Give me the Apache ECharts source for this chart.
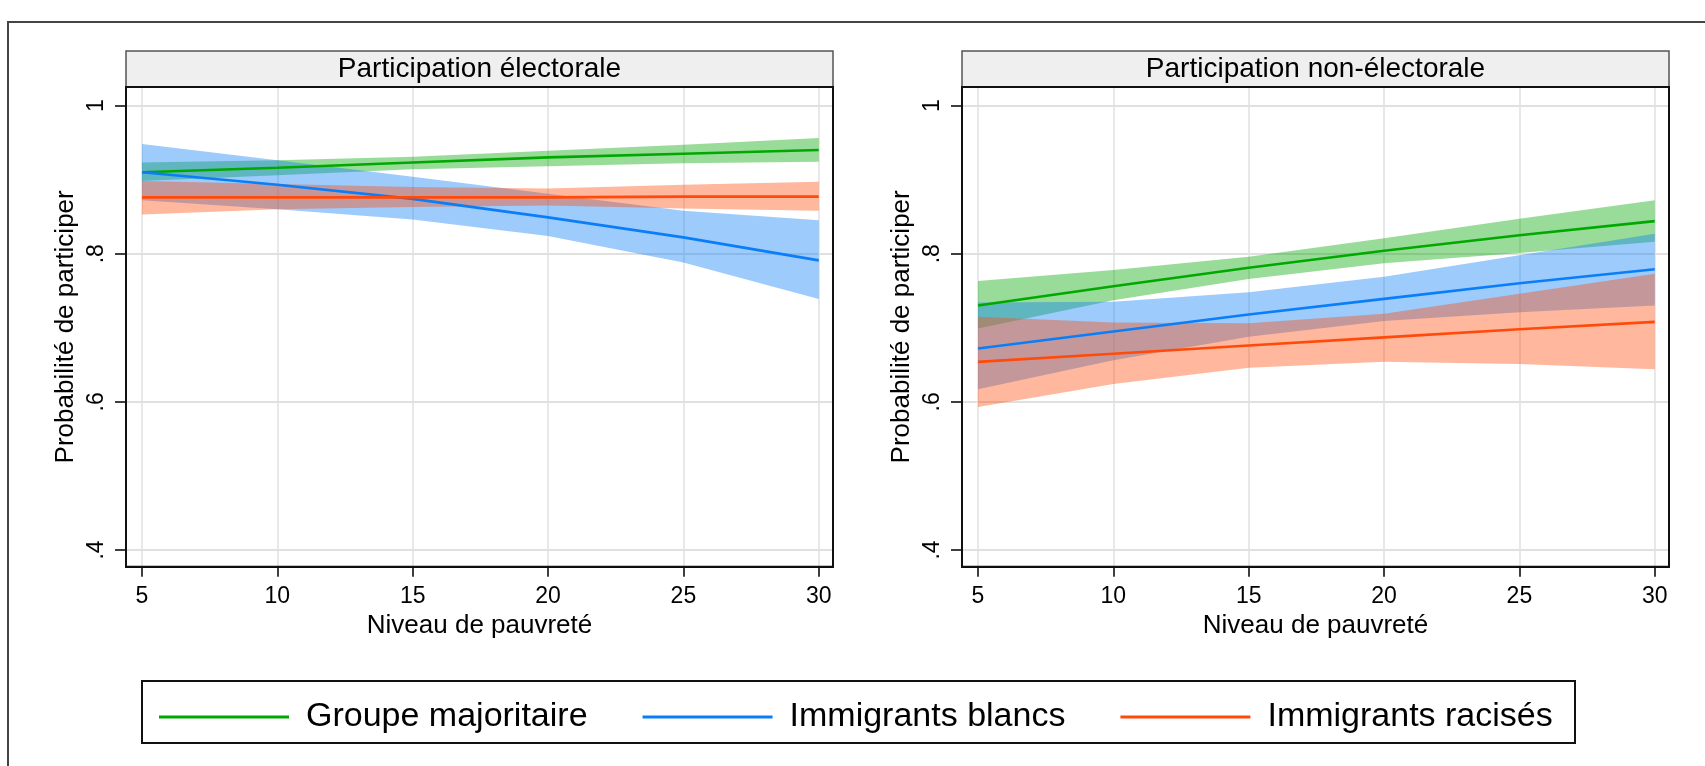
<!DOCTYPE html>
<html><head><meta charset="utf-8">
<script src="https://cdn.jsdelivr.net/npm/echarts@6/dist/echarts.min.js"></script>
<style>html,body{margin:0;padding:0;background:#fff}#c{width:1705px;height:766px}</style>
</head><body><div id="c"></div>
<script>
// ---- data ----
const xValues = [5, 10, 15, 20, 25, 30];
const xTickValues = [5, 10, 15, 20, 25, 30];
const yTickValues = [0.4, 0.6, 0.8, 1];
const yTickLabels = ['.4', '.6', '.8', '1'];
const panelTitles = ['Participation électorale', 'Participation non-électorale'];
const groupNames = ['Groupe majoritaire', 'Immigrants blancs', 'Immigrants racisés'];
const xAxisTitle = 'Niveau de pauvreté';
const yAxisTitle = 'Probabilité de participer';

// Panel 1: Participation électorale
const elecMajLine = [0.910, 0.916, 0.923, 0.930, 0.935, 0.940];
const elecMajLow  = [0.898, 0.906, 0.914, 0.918, 0.922, 0.924];
const elecMajHigh = [0.923, 0.926, 0.931, 0.939, 0.947, 0.956];
const elecBlaLine = [0.910, 0.893, 0.874, 0.849, 0.822, 0.791];
const elecBlaLow  = [0.872, 0.860, 0.846, 0.824, 0.788, 0.739];
const elecBlaHigh = [0.948, 0.926, 0.904, 0.881, 0.858, 0.845];
const elecRacLine = [0.876, 0.876, 0.876, 0.876, 0.877, 0.877];
const elecRacLow  = [0.853, 0.860, 0.863, 0.865, 0.861, 0.858];
const elecRacHigh = [0.898, 0.894, 0.890, 0.888, 0.893, 0.897];

// Panel 2: Participation non-électorale
const nonMajLine = [0.730, 0.756, 0.781, 0.804, 0.825, 0.844];
const nonMajLow  = [0.699, 0.737, 0.766, 0.787, 0.801, 0.816];
const nonMajHigh = [0.763, 0.778, 0.796, 0.821, 0.847, 0.872];
const nonBlaLine = [0.672, 0.695, 0.718, 0.739, 0.760, 0.779];
const nonBlaLow  = [0.617, 0.656, 0.688, 0.709, 0.721, 0.730];
const nonBlaHigh = [0.734, 0.735, 0.748, 0.769, 0.798, 0.827];
const nonRacLine = [0.654, 0.665, 0.676, 0.687, 0.698, 0.708];
const nonRacLow  = [0.593, 0.624, 0.646, 0.654, 0.651, 0.644];
const nonRacHigh = [0.715, 0.707, 0.706, 0.719, 0.746, 0.773];

// ---- styling ----
const FONT = '"Liberation Sans", Arial, Helvetica, sans-serif';
const colors = ['#00a800', '#0a7ef8', '#ff4a0a'];
const panels = [
  { left: 126, groups: [[elecMajLine, elecMajLow, elecMajHigh], [elecBlaLine, elecBlaLow, elecBlaHigh], [elecRacLine, elecRacLow, elecRacHigh]] },
  { left: 962, groups: [[nonMajLine, nonMajLow, nonMajHigh], [nonBlaLine, nonBlaLow, nonBlaHigh], [nonRacLine, nonRacLow, nonRacHigh]] }
];
const GW = 707, GT = 87, GH = 479.7;

const grids = [], xAxes = [], yAxes = [], series = [], graphics = [];

graphics.push({ type: 'rect', shape: { x: 8, y: 22, width: 1800, height: 900 }, style: { fill: 'none', stroke: '#444', lineWidth: 2 }, z: 0 });

function bandSeries(gi, lo, hi, color) {
  const data = xValues.map((x, i) => [x, lo[i], hi[i]]);
  return {
    type: 'custom', xAxisIndex: gi, yAxisIndex: gi, silent: true, z: 2, animation: false,
    data: data,
    encode: { x: 0, y: [1, 2] },
    renderItem: function (params, api) {
      if (params.dataIndex !== 0) return null;
      const pts = [];
      for (let i = 0; i < data.length; i++) pts.push(api.coord([data[i][0], data[i][2]]));
      for (let i = data.length - 1; i >= 0; i--) pts.push(api.coord([data[i][0], data[i][1]]));
      return { type: 'polygon', shape: { points: pts }, style: { fill: color, opacity: 0.4 } };
    }
  };
}

panels.forEach((p, gi) => {
  grids.push({ left: p.left, top: GT, width: GW, height: GH, containLabel: false });
  xAxes.push({
    type: 'value', gridIndex: gi, min: 4.409, max: 30.527,
    name: xAxisTitle, nameLocation: 'middle', nameGap: 45,
    nameTextStyle: { fontFamily: FONT, fontSize: 26, color: '#000' },
    axisLine: { show: true, onZero: false, lineStyle: { color: '#000', width: 2 } },
    axisTick: { show: true, length: 10, customValues: xTickValues, lineStyle: { color: '#000', width: 1.5 } },
    axisLabel: { customValues: xTickValues, margin: 18, fontFamily: FONT, fontSize: 23, color: '#000' },
    splitLine: { show: true, lineStyle: { color: '#e0e0e0', width: 1.5 } }
  });
  yAxes.push({
    type: 'value', gridIndex: gi, min: 0.3775, max: 1.025,
    name: yAxisTitle, nameLocation: 'middle', nameGap: 47,
    nameTextStyle: { fontFamily: FONT, fontSize: 26, color: '#000' },
    axisLine: { show: true, onZero: false, lineStyle: { color: '#000', width: 2 } },
    axisTick: { show: true, length: 11, customValues: yTickValues, lineStyle: { color: '#000', width: 1.5 } },
    axisLabel: {
      customValues: yTickValues, rotate: 90, margin: 18, fontFamily: FONT, fontSize: 23, color: '#000',
      formatter: v => { const i = yTickValues.findIndex(t => Math.abs(t - v) < 1e-6); return i >= 0 ? yTickLabels[i] : ''; }
    },
    splitLine: { show: true, lineStyle: { color: '#e0e0e0', width: 2 } }
  });
  p.groups.forEach((g, k) => series.push(bandSeries(gi, g[1], g[2], colors[k])));
  p.groups.forEach((g, k) => {
    series.push({
      type: 'line', name: groupNames[k], xAxisIndex: gi, yAxisIndex: gi,
      data: xValues.map((x, i) => [x, g[0][i]]), symbol: 'none', silent: true,
      itemStyle: { color: colors[k] }, lineStyle: { color: colors[k], width: 2.6 }, z: 3, animation: false
    });
  });
  graphics.push({ type: 'rect', shape: { x: p.left, y: 51, width: GW, height: 36 }, style: { fill: '#efefef', stroke: '#555', lineWidth: 1.5 }, z: 1 });
  graphics.push({ type: 'text', x: p.left + GW / 2, y: 69, style: { text: panelTitles[gi], fontFamily: FONT, fontSize: 28, fill: '#000', textAlign: 'center', textVerticalAlign: 'middle' }, z: 2 });
  graphics.push({ type: 'rect', shape: { x: p.left, y: GT, width: GW, height: GH }, style: { fill: 'none', stroke: '#111', lineWidth: 2 }, z: 5 });
});

graphics.push({ type: 'rect', shape: { x: 142, y: 681, width: 1433, height: 62 }, style: { fill: 'none', stroke: '#111', lineWidth: 2 }, z: 1 });

const chart = echarts.init(document.getElementById('c'), null, { renderer: 'canvas' });
chart.setOption({
  backgroundColor: '#fff',
  animation: false,
  grid: grids, xAxis: xAxes, yAxis: yAxes, series: series,
  legend: {
    data: groupNames, left: 154, top: 692, orient: 'horizontal',
    icon: 'rect', itemWidth: 130, itemHeight: 3, itemGap: 55,
    textStyle: { fontFamily: FONT, fontSize: 34, color: '#000', lineHeight: 40, padding: [0, 0, 0, 12] }
  },
  graphic: graphics
});
</script></body></html>
